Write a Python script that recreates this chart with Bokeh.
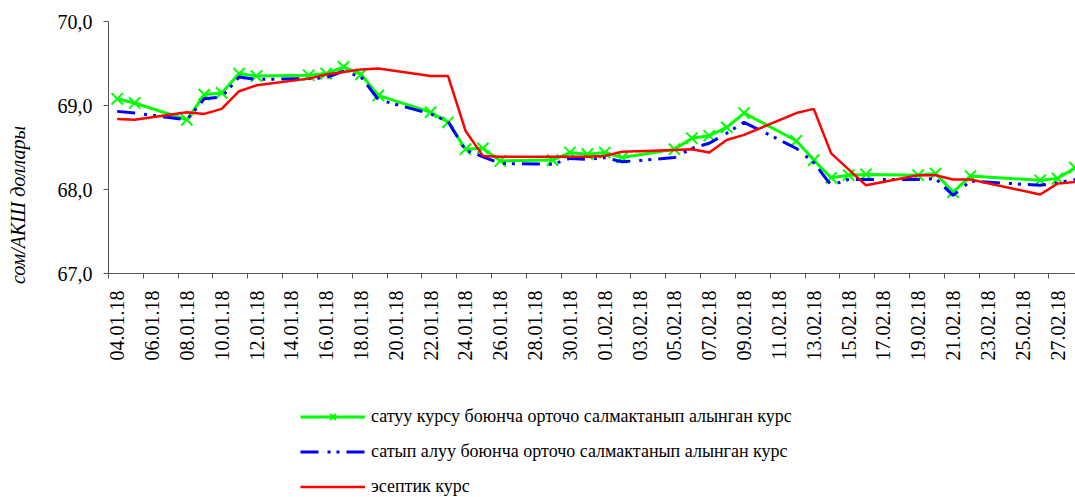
import pandas as pd
from bokeh.plotting import figure
from bokeh.layouts import column
from bokeh.models import (FixedTicker, DatetimeTickFormatter, Range1d, Legend,
                          LegendItem, ColumnDataSource)
from bokeh.embed import file_html
from bokeh.resources import INLINE

# ---- data ----
dates = ["04.01.18", "05.01.18", "08.01.18", "09.01.18", "10.01.18", "11.01.18",
         "12.01.18", "15.01.18", "16.01.18", "17.01.18", "18.01.18", "19.01.18",
         "22.01.18", "23.01.18", "24.01.18", "25.01.18", "26.01.18", "29.01.18",
         "30.01.18", "31.01.18", "01.02.18", "02.02.18", "05.02.18", "06.02.18",
         "07.02.18", "08.02.18", "09.02.18", "12.02.18", "13.02.18", "14.02.18",
         "15.02.18", "16.02.18", "19.02.18", "20.02.18", "21.02.18", "22.02.18",
         "26.02.18", "27.02.18", "28.02.18"]

sell_rate = [69.08, 69.03, 68.83, 69.13, 69.15, 69.38, 69.35, 69.36, 69.38, 69.46,
             69.37, 69.12, 68.92, 68.80, 68.48, 68.49, 68.34, 68.35, 68.44, 68.42,
             68.44, 68.38, 68.48, 68.61, 68.64, 68.74, 68.91, 68.58, 68.35, 68.14,
             68.17, 68.18, 68.17, 68.19, 67.97, 68.16, 68.11, 68.13, 68.26]

buy_rate = [68.93, 68.91, 68.83, 69.08, 69.10, 69.34, 69.31, 69.32, 69.33, 69.41,
            69.34, 69.07, 68.90, 68.81, 68.47, 68.39, 68.31, 68.30, 68.37, 68.36,
            68.38, 68.33, 68.38, 68.49, 68.55, 68.67, 68.80, 68.49, 68.32, 68.05,
            68.12, 68.12, 68.12, 68.13, 67.93, 68.10, 68.05, 68.08, 68.12]

official_rate = [68.84, 68.83, 68.92, 68.90, 68.96, 69.17, 69.24, 69.32, 69.37, 69.40,
                 69.43, 69.44, 69.35, 69.35, 68.70, 68.40, 68.39, 68.39, 68.39, 68.39,
                 68.40, 68.45, 68.47, 68.48, 68.44, 68.59, 68.65, 68.91, 68.96, 68.43,
                 68.24, 68.05, 68.17, 68.17, 68.12, 68.12, 67.94, 68.07, 68.09]

x_tick_labels = ["04.01.18", "06.01.18", "08.01.18", "10.01.18", "12.01.18", "14.01.18",
                 "16.01.18", "18.01.18", "20.01.18", "22.01.18", "24.01.18", "26.01.18",
                 "28.01.18", "30.01.18", "01.02.18", "03.02.18", "05.02.18", "07.02.18",
                 "09.02.18", "11.02.18", "13.02.18", "15.02.18", "17.02.18", "19.02.18",
                 "21.02.18", "23.02.18", "25.02.18", "27.02.18"]

y_ticks = [67.0, 68.0, 69.0, 70.0]
y_tick_labels = ["67,0", "68,0", "69,0", "70,0"]

series_names = ["сатуу курсу боюнча орточо салмактанып алынган курс",
                "сатып алуу боюнча орточо салмактанып алынган курс",
                "эсептик курс"]
y_title = "сом/АКШ доллары"

# ---- build ----
FONT = "Liberation Serif"
GREEN, BLUE, RED = "#00ff00", "#0000ff", "#ff0000"
AXIS_COLOR = "#555555"
BLUE_DASH = "18 9 3 6 3 7"

x = pd.to_datetime(dates, format="%d.%m.%y")
src = ColumnDataSource(dict(x=x, sell=sell_rate, buy=buy_rate, off=official_rate))

epoch = pd.Timestamp("1970-01-01")
ms = pd.Timedelta(milliseconds=1)
lab = pd.to_datetime(x_tick_labels, format="%d.%m.%y")
major_ms = [float((d - epoch) / ms) for d in lab]
half = pd.Timedelta(hours=12)
minor_ms = [float((d - half - epoch) / ms) for d in lab] + \
           [float((lab[-1] + pd.Timedelta(hours=36) - epoch) / ms)]

x_start = lab[0] - half
x_end = x[-1] + pd.Timedelta(minutes=45)

p = figure(width=1075, height=404, x_axis_type="datetime",
           x_range=Range1d(x_start, x_end), y_range=Range1d(67.0, 70.0),
           output_backend="svg", toolbar_location=None,
           min_border_left=108, min_border_right=0, min_border_top=21,
           min_border_bottom=131)
p.outline_line_color = None
p.xgrid.visible = False
p.ygrid.visible = False
p.background_fill_color = "white"
p.border_fill_color = "white"

p.line("x", "sell", source=src, line_color=GREEN, line_width=3)
p.scatter("x", "sell", source=src, marker="x", size=16, line_color=GREEN, line_width=2)
p.line("x", "buy", source=src, line_color=BLUE, line_width=3, line_dash=BLUE_DASH)
p.line("x", "off", source=src, line_color=RED, line_width=2.5)

xa = p.xaxis[0]
xa.ticker = FixedTicker(ticks=major_ms, minor_ticks=minor_ms)
fmt = "%d.%m.%y"
xa.formatter = DatetimeTickFormatter(microseconds=fmt, milliseconds=fmt, seconds=fmt,
                                     minsec=fmt, minutes=fmt, hourmin=fmt, hours=fmt,
                                     days=fmt, months=fmt, years=fmt)
xa.major_label_orientation = 3.14159265 / 2
xa.major_tick_line_color = None
xa.major_tick_out = 0
xa.major_tick_in = 0
xa.minor_tick_line_color = AXIS_COLOR
xa.minor_tick_out = 5
xa.minor_tick_in = 0
xa.major_label_standoff = 12
xa.axis_line_color = AXIS_COLOR
xa.major_label_text_font = FONT
xa.major_label_text_font_size = "20px"
xa.major_label_text_color = "black"

ya = p.yaxis[0]
ya.ticker = FixedTicker(ticks=y_ticks)
ya.major_label_overrides = {t: s for t, s in zip(y_ticks, y_tick_labels)}
ya.major_tick_out = 5
ya.major_tick_in = 0
ya.minor_tick_line_color = None
ya.major_tick_line_color = AXIS_COLOR
ya.axis_line_color = AXIS_COLOR
ya.major_label_standoff = 11
ya.major_label_text_font = FONT
ya.major_label_text_font_size = "20px"
ya.major_label_text_color = "black"
# the title sits low on the axis in the reference: trailing non-breaking spaces
# shift its visible part down while the whole label stays centred on the axis
ya.axis_label = y_title + "\u00a0" * 23
ya.axis_label_align = "center"
ya.axis_label_standoff = 26
ya.axis_label_text_font = FONT
ya.axis_label_text_font_style = "italic"
ya.axis_label_text_font_size = "20px"
ya.axis_label_text_color = "black"

# ---- legend in a strip below the chart ----
q = figure(width=1075, height=93, x_range=Range1d(0, 1), y_range=Range1d(0, 1),
           output_backend="svg", toolbar_location=None,
           x_axis_location=None, y_axis_location=None,
           min_border_left=0, min_border_right=0, min_border_top=0,
           min_border_bottom=0)
q.outline_line_color = None
q.xgrid.visible = False
q.ygrid.visible = False
q.border_fill_color = "white"

lg1 = q.line("x", "sell", source=src, line_color=GREEN, line_width=3)
lg1m = q.scatter("x", "sell", source=src, marker="x", size=12, line_color=GREEN,
                 line_width=2)
lg2 = q.line("x", "buy", source=src, line_color=BLUE, line_width=3, line_dash=BLUE_DASH)
lg3 = q.line("x", "off", source=src, line_color=RED, line_width=2.5)

legend = Legend(items=[LegendItem(label=series_names[0], renderers=[lg1, lg1m]),
                       LegendItem(label=series_names[1], renderers=[lg2]),
                       LegendItem(label=series_names[2], renderers=[lg3])],
                location=(192, 0), orientation="vertical",
                padding=0, margin=0, spacing=14, glyph_width=65, glyph_height=21,
                label_height=21, label_standoff=6, label_text_font=FONT,
                label_text_font_size="18px", label_text_color="black",
                border_line_alpha=0, background_fill_alpha=0)
q.add_layout(legend)

layout = column(p, q, spacing=0)
open("out.html", "w").write(file_html(layout, INLINE))
